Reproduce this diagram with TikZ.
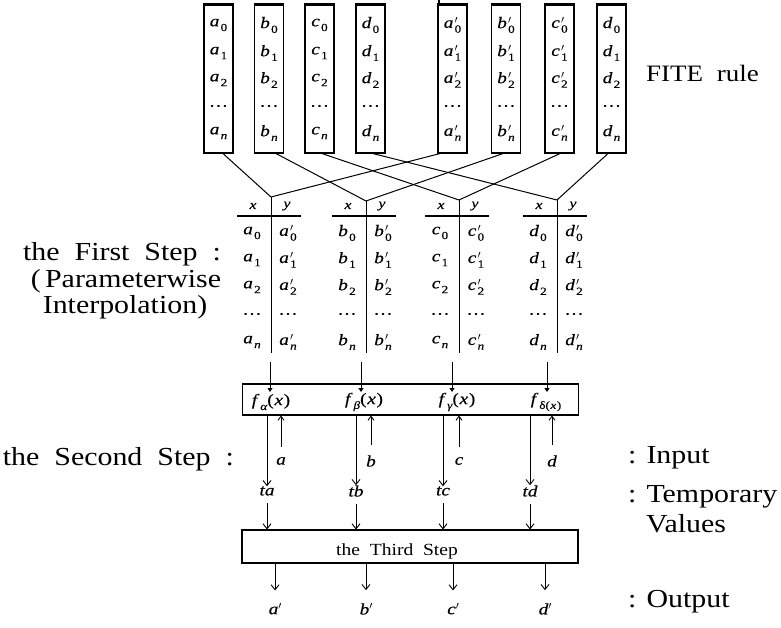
\documentclass[tikz,border=0pt]{standalone}
\usepackage{fontspec}
\setmainfont{Liberation Serif}
\newfontfamily\bigserif[FakeStretch=1.15,WordSpace=2]{Liberation Serif}
\newfontfamily\entf[FakeStretch=1.2,FakeBold=0.4]{Liberation Serif}
\usetikzlibrary{arrows.meta}
\newcommand\subsz{\fontsize{11}{11}\selectfont}
\newcommand\E[2]{{\itshape #1}\kern0.08em\raisebox{-0.3em}{\subsz #2}}
\newcommand\EP[2]{{\itshape #1}\kern0.08em\rlap{\raisebox{0.28em}{$\scriptstyle\prime$}}\raisebox{-0.3em}{\subsz #2}}
\newcommand\FN[1]{{\itshape f}\kern0.2em\raisebox{-0.3em}{\subsz\itshape #1}(\kern0.05em{\itshape x}\kern0.05em)}
\begin{document}
\begin{tikzpicture}[x=1pt,y=-1pt,
  colbox/.style={draw,line width=1.1pt,minimum width=29pt,minimum height=148pt,inner sep=0pt},
  ent/.style={inner sep=0pt,font=\entf\fontsize{16}{18}\selectfont},
  hdr/.style={inner sep=0pt,font=\entf\itshape\fontsize{13}{14}\selectfont},
  tv/.style={inner sep=0pt,font=\entf\itshape\fontsize{16}{18}\selectfont},
  big/.style={inner sep=0pt,font=\bigserif\fontsize{26}{28}\selectfont},
  ln/.style={line width=1pt},
  arr/.style={line width=0.9pt,-{Straight Barb[length=5pt,width=8pt]}},
  uparr/.style={line width=0.9pt,-{Straight Barb[length=4pt,width=6pt]}},
  tip/.style={line width=0.9pt,-{Triangle[length=4pt,width=5pt]}}]
\useasboundingbox (0,0) rectangle (781,628);

% ---------- top columns ----------
\foreach \n/\xx/\ltr/\mac in {1/218.5/a/\E,2/269/b/\E,3/319.5/c/\E,4/370.5/d/\E,5/452.5/a/\EP,6/506/b/\EP,7/559.5/c/\EP,8/611.5/d/\E}{
  \node[colbox] (top\n) at (\xx,79) {};
  \draw[line width=2.2pt] (top\n.north west) -- (top\n.north east);
  \node[ent] (top\n-0) at (\xx,25) {\mac{\ltr}{0}};
  \node[ent] (top\n-1) at (\xx,53) {\mac{\ltr}{1}};
  \node[ent] (top\n-2) at (\xx,80) {\mac{\ltr}{2}};
  \node[ent] (top\n-d) at (\xx,106) {\dots};
  \node[ent] (top\n-n) at (\xx,133) {\mac{\ltr}{\itshape n}};
}
\coordinate (stray) at (439,0);
\draw[line width=1.2pt] (stray) -- (stray |- top5.north);

\node[big,anchor=base west,font=\bigserif\fontsize{23.5}{26}\selectfont] (fite) at (646,82) {FITE rule};

% ---------- apexes and crossing lines ----------
\coordinate (apA) at (271,197);
\coordinate (apB) at (366,201);
\coordinate (apC) at (459,200);
\coordinate (apD) at (557,200);
\draw[ln] ([xshift=4.5pt]top1.south) -- (apA);
\draw[ln] ([xshift=-12.5pt]top5.south) -- (apA);
\draw[ln] ([xshift=7pt]top2.south) -- (apB);
\draw[ln] ([xshift=-3pt]top6.south) -- (apB);
\draw[ln] ([xshift=2.5pt]top3.south) -- (apC);
\draw[ln] ([xshift=0.5pt]top7.south) -- (apC);
\draw[ln] ([xshift=2.5pt]top4.south) -- (apD);
\draw[ln] ([xshift=-3.5pt]top8.south) -- (apD);

% ---------- first step tables ----------
\foreach \tb/\D/\ltr in {A/271/a,B/366/b,C/459/c,D/557/d}{
  \coordinate (hl\tb) at ({\D-34},216);
  \coordinate (hr\tb) at ({\D+30},216);
  \draw[line width=1.3pt] (hl\tb) -- (hr\tb);
  \coordinate (dv\tb) at (\D,353);
  \draw[ln] (ap\tb) -- (dv\tb);
  \node[hdr] (hx\tb) at ({\D-18},206) {x};
  \node[hdr] (hy\tb) at ({\D+16},206) {y};
  \node[ent] (L\tb0) at ({\D-19},233) {\E{\ltr}{0}};
  \node[ent] (L\tb1) at ({\D-19},260) {\E{\ltr}{1}};
  \node[ent] (L\tb2) at ({\D-19},287) {\E{\ltr}{2}};
  \node[ent] (L\tb d) at ({\D-19},314) {\dots};
  \node[ent] (L\tb n) at ({\D-19},342) {\E{\ltr}{\itshape n}};
  \node[ent] (R\tb0) at ({\D+17},233) {\EP{\ltr}{0}};
  \node[ent] (R\tb1) at ({\D+17},260) {\EP{\ltr}{1}};
  \node[ent] (R\tb2) at ({\D+17},287) {\EP{\ltr}{2}};
  \node[ent] (R\tb d) at ({\D+17},314) {\dots};
  \node[ent] (R\tb n) at ({\D+17},342) {\EP{\ltr}{\itshape n}};
}

\node[big,anchor=base] (s1a) at (122,261) {the First Step :};
\node[big,anchor=base] (s1b) at (126,287) {(\,Parameterwise};
\node[big,anchor=base] (s1c) at (125,313) {Interpolation)};

% ---------- second step ----------
\node[draw,line width=1.1pt,minimum width=336pt,minimum height=31pt,inner sep=0pt] (fbox) at (410.5,399.5) {};
\node[ent] (fA) at (271,402) {\FN{α}};
\node[ent] (fB) at (364,402) {\FN{β}};
\node[ent] (fC) at (457,402) {\FN{γ}};
\node[ent] (fD) at (546,402) {{\itshape f}\kern0.2em\raisebox{-0.3em}{\subsz δ(\kern0.05em{\itshape x}\kern0.05em)}};
\foreach \tb/\xx in {A/270,B/361,C/452,D/547}{
  \coordinate (fs\tb) at (\xx,362);
  \coordinate (fe\tb) at (\xx,392);
  \draw[tip] (fs\tb) -- (fe\tb);
}

\node[draw,line width=1.1pt,minimum width=336pt,minimum height=33pt,inner sep=0pt] (third) at (410,546.5) {};
\node[inner sep=0pt,anchor=base,font=\bigserif\fontsize{17}{19}\selectfont] (thirdlbl) at (397,555) {the Third Step};

\foreach \tb/\xd/\xu/\ltr in {A/267/281/a,B/356/371/b,C/443/459/c,D/530/552/d}{
  \node[tv] (t\tb) at (\xd,491) {t\ltr};
  \node[tv] (i\tb) at (\xu,461) {\ltr};
  \draw[arr] (t\tb.north |- fbox.south) -- (t\tb.north);
  \draw[uparr,shorten <=10pt] (i\tb.north) -- (i\tb.north |- fbox.south);
  \draw[arr,shorten <=7pt] (t\tb.south) -- (t\tb.south |- third.north);
}

\node[big,anchor=base east] (s2) at (234,465) {the Second Step :};

% ---------- output ----------
\foreach \tb/\xx/\ltr in {A/275/a,B/366/b,C/453/c,D/545/d}{
  \node[tv] (o\tb) at (\xx,609) {\ltr\raisebox{0.28em}{$\scriptstyle\prime$}};
  \draw[arr,shorten >=13pt] (o\tb |- third.south) -- (o\tb.north);
}

% ---------- right labels ----------
\node[big,anchor=base west] (inp) at (628,463) {{:}\hspace{10pt}Input};
\node[big,anchor=base west] (tmp) at (628,502) {{:}\hspace{10pt}Temporary};
\node[big,anchor=base west] (val) at (646,532) {Values};
\node[big,anchor=base west] (outp) at (628,607) {{:}\hspace{10pt}Output};
\end{tikzpicture}
\end{document}
